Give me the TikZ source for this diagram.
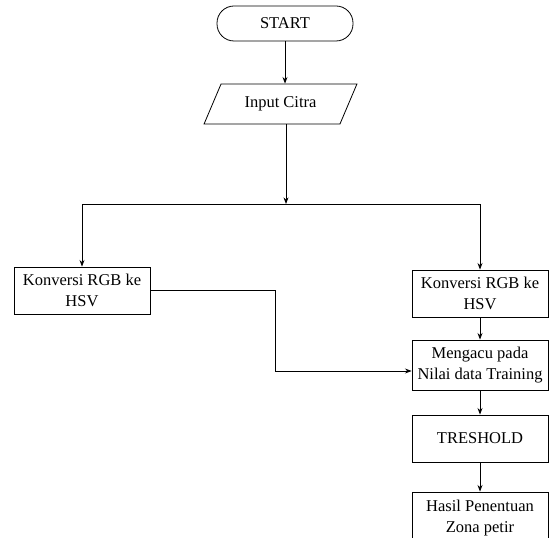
\documentclass[tikz,border=0pt]{standalone}
\usepackage{fontspec}
\setmainfont{Liberation Serif}
\usetikzlibrary{arrows.meta,positioning,calc,shapes.geometric}

\begin{document}
\begin{tikzpicture}[x=1pt,y=-1pt,>=Stealth,font=\fontsize{16.5}{21}\selectfont,line width=0.8pt]
\tikzstyle{term}=[rectangle,draw,rounded corners=17pt,minimum width=136pt,minimum height=35pt]
\tikzstyle{io}=[trapezium,draw,trapezium left angle=62,trapezium right angle=118,trapezium stretches=true,minimum width=153pt,minimum height=40pt]
\tikzstyle{proc}=[rectangle,draw,minimum width=136pt,align=center,inner sep=2pt]
\clip (0,0) rectangle (553,537);
\node[term] (start) at (285,23.5) {START};
\node[io] (input) at (280.5,104) {Input Citra};
\node[proc,minimum height=47pt] (konvL) at (82,290.5) {Konversi RGB ke\\HSV};
\node[proc,minimum height=47pt] (konvR) at (480,293.5) {Konversi RGB ke\\HSV};
\node[proc,minimum height=50pt] (acuan) at (480,365) {Mengacu pada\\Nilai data Training};
\node[proc,minimum height=47pt] (thresh) at (480,438.5) {TRESHOLD};
\node[proc,minimum height=52pt] (hasil) at (480,518) {Hasil Penentuan\\Zona petir};
\coordinate (split) at (286,204);
\draw[->] (start.south) -- (start.south |- input.north);
\draw[->] (split |- input.south) -- (split);
\draw (split -| konvL) -- (split -| konvR);
\draw[->] (konvL |- split) -- (konvL.north);
\draw[->] (konvR |- split) -- (konvR.north);
\draw[->] (konvL.east) -- ++(125,0) |- ([yshift=-6pt]acuan.west);
\draw[->] (konvR.south) -- (acuan.north);
\draw[->] (acuan.south) -- (thresh.north);
\draw[->] (thresh.south) -- (hasil.north);
\end{tikzpicture}
\end{document}
